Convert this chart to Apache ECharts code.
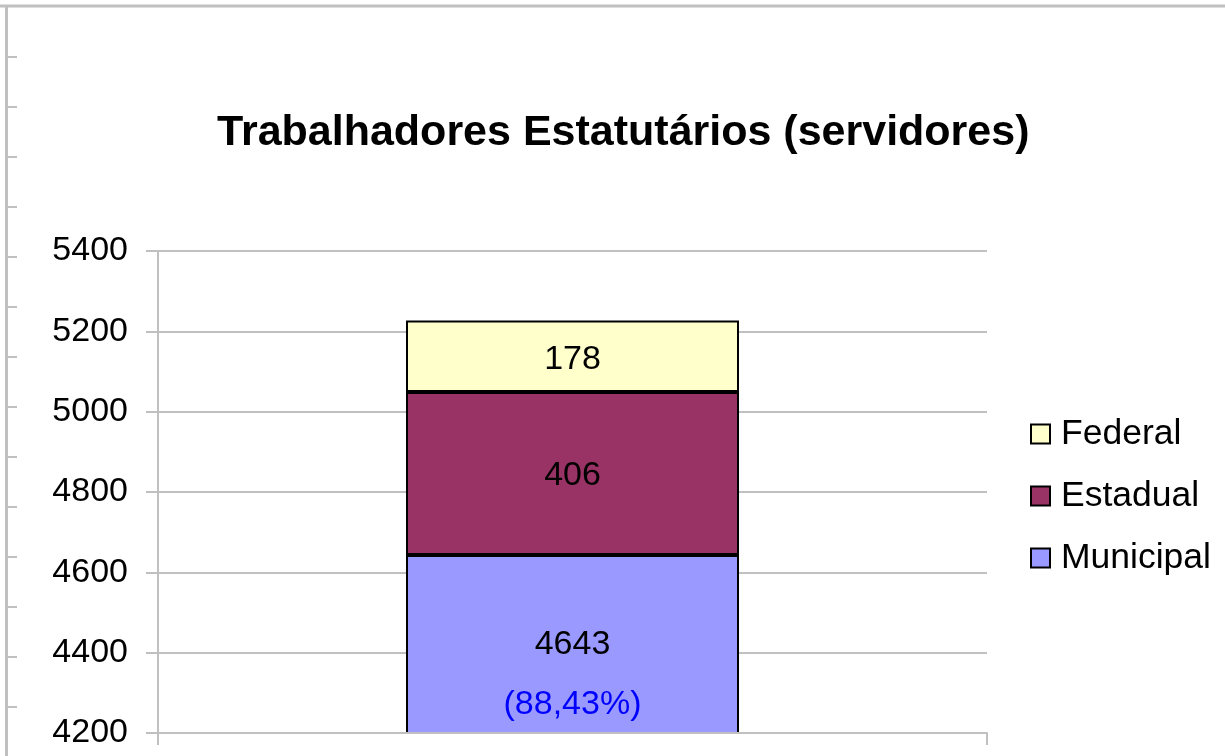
<!DOCTYPE html>
<html>
<head>
<meta charset="utf-8">
<script src="https://cdn.jsdelivr.net/npm/echarts@6/dist/echarts.min.js"></script>
<style>
html,body{margin:0;padding:0;background:#fff;}
#chart{width:1225px;height:756px;}
</style>
</head>
<body>
<div id="chart"></div>
<script>
var categories = ['Servidores'];
var municipal = [4643];
var estadual = [406];
var federal = [178];
var municipalPct = ['(88,43%)'];
var yTicks = { min: 4200, max: 5400, interval: 200 };
var legendOrder = ['Federal', 'Estadual', 'Municipal'];

var FONT = '"Liberation Sans", Arial, sans-serif';
var GRAY = '#C0C0C0';

// decorative outer frame (top line, left line with small ticks)
var frame = [
  { type: 'line', shape: { x1: 0, y1: 6, x2: 1225, y2: 6 }, style: { stroke: GRAY, lineWidth: 3 }, silent: true },
  { type: 'line', shape: { x1: 6.5, y1: 6, x2: 6.5, y2: 756 }, style: { stroke: GRAY, lineWidth: 3 }, silent: true }
];
for (var ty = 57; ty < 756; ty += 50) {
  frame.push({ type: 'line', shape: { x1: 6, y1: ty, x2: 17, y2: ty }, style: { stroke: GRAY, lineWidth: 2 }, silent: true });
}

var chart = echarts.init(document.getElementById('chart'), null, { renderer: 'canvas' });
chart.setOption({
  animation: false,
  backgroundColor: '#fff',
  textStyle: { fontFamily: FONT },
  graphic: frame,
  title: {
    text: 'Trabalhadores Estatutários (servidores)',
    left: 212, top: 107,
    textStyle: { fontFamily: FONT, fontSize: 43, fontWeight: 'bold', color: '#000' }
  },
  legend: {
    orient: 'vertical',
    left: 1025, top: 411,
    data: legendOrder,
    icon: 'rect',
    itemWidth: 19, itemHeight: 19,
    itemGap: 26,
    itemStyle: { borderColor: '#000', borderWidth: 2 },
    textStyle: { fontFamily: FONT, fontSize: 35.5, color: '#000', lineHeight: 36, padding: [0, 0, 0, 6] }
  },
  grid: { left: 158, right: 238, top: 251, bottom: 23, containLabel: false },
  xAxis: {
    type: 'category',
    data: categories,
    z: 5,
    axisLine: { lineStyle: { color: GRAY, width: 2 } },
    axisTick: { show: true, length: 12, lineStyle: { color: GRAY, width: 2 } },
    axisLabel: { show: false }
  },
  yAxis: {
    type: 'value',
    min: yTicks.min, max: yTicks.max, interval: yTicks.interval,
    axisLine: { show: true, lineStyle: { color: GRAY, width: 2 } },
    axisTick: { show: true, length: 12, lineStyle: { color: GRAY, width: 2 } },
    axisLabel: { fontFamily: FONT, fontSize: 34, color: '#000', margin: 30, formatter: function (v) { return String(v); } },
    splitLine: { show: true, lineStyle: { color: GRAY, width: 2 } }
  },
  series: [
    {
      name: 'Municipal', type: 'bar', stack: 'total', barWidth: 333,
      data: municipal,
      itemStyle: { color: '#9999FF', borderColor: '#000', borderWidth: 2 },
      label: {
        show: true, position: 'insideBottom', distance: -1,
        formatter: function (p) { return '{a|' + p.value + '}\n{b|' + municipalPct[p.dataIndex] + '}'; },
        rich: {
          a: { fontFamily: FONT, fontSize: 34, color: '#000', lineHeight: 60 },
          b: { fontFamily: FONT, fontSize: 34, color: '#0000FF', lineHeight: 60 }
        }
      }
    },
    {
      name: 'Estadual', type: 'bar', stack: 'total',
      data: estadual,
      itemStyle: { color: '#993366', borderColor: '#000', borderWidth: 2 },
      label: { show: true, position: 'inside', offset: [0, 2], fontFamily: FONT, fontSize: 34, color: '#000' }
    },
    {
      name: 'Federal', type: 'bar', stack: 'total',
      data: federal,
      itemStyle: { color: '#FFFFCC', borderColor: '#000', borderWidth: 2 },
      label: { show: true, position: 'inside', offset: [0, 3], fontFamily: FONT, fontSize: 34, color: '#000' }
    }
  ]
});
</script>
</body>
</html>
